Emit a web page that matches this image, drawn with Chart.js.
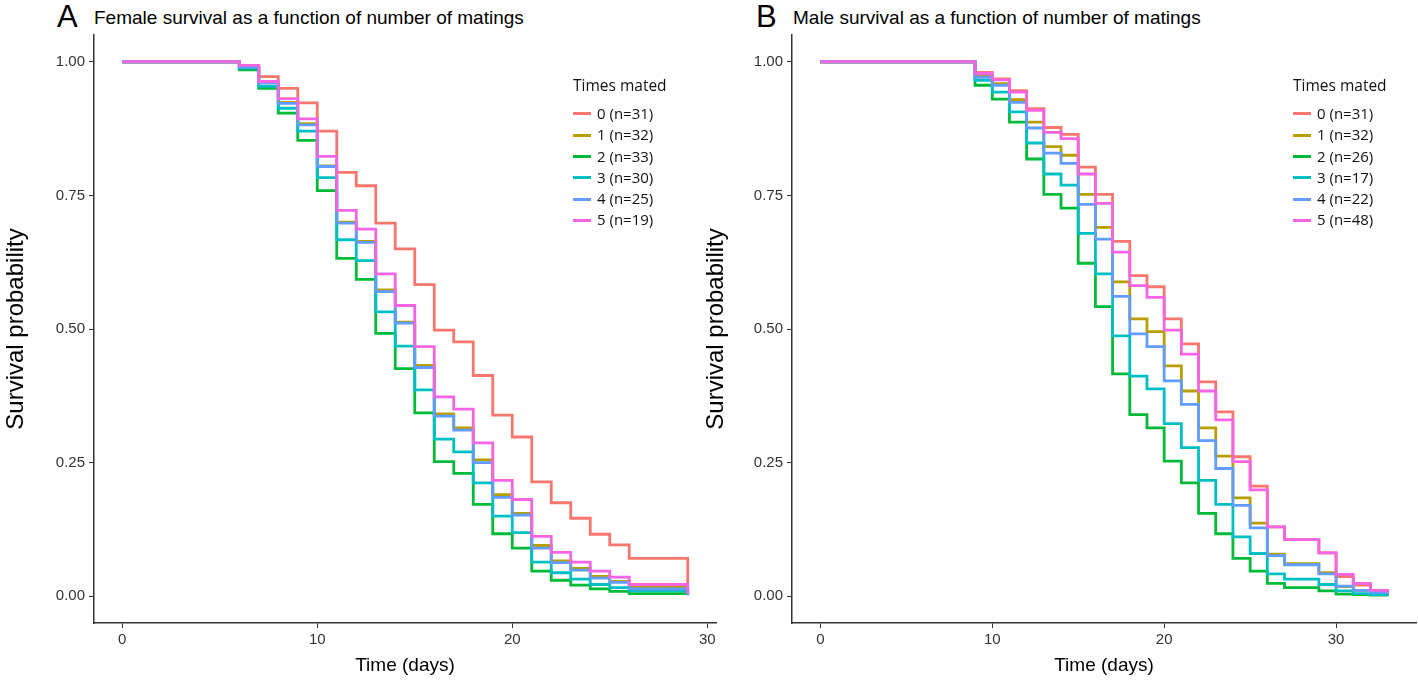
<!DOCTYPE html>
<html>
<head>
<meta charset="utf-8">
<script src="https://cdn.jsdelivr.net/npm/chart.js@4.4.0/dist/chart.umd.min.js"></script>
<style>
  body { margin:0; width:1418px; height:681px; background:#fff; position:relative; overflow:hidden; font-family:"Liberation Sans", Arial, sans-serif; }
  canvas { position:absolute; top:0; }
  .letter { position:absolute; font-size:31px; top:-1px; color:#000; }
  .ttl { position:absolute; font-size:19px; top:7px; color:#000; }
  .legend { position:absolute; font-family:"Open Sans", sans-serif; font-size:15px; color:#111; }
  .legend .head { height:20px; line-height:20px; margin-bottom:8px; font-size:15.5px; }
  .legend .row { height:21.3px; line-height:21px; white-space:nowrap; }
  .legend .key { display:inline-block; width:18px; height:3px; vertical-align:middle; margin-right:6px; margin-top:-2px; }
</style>
</head>
<body>
<div class="letter" style="left:57px">A</div>
<div class="ttl" style="left:94px">Female survival as a function of number of matings</div>
<div class="letter" style="left:756px">B</div>
<div class="ttl" style="left:793px">Male survival as a function of number of matings</div>
<canvas id="chartA" width="720" height="681" style="left:0px"></canvas>
<canvas id="chartB" width="718" height="681" style="left:700px"></canvas>
<div class="legend" id="legendA" style="left:573px; top:75px"></div>
<div class="legend" id="legendB" style="left:1293px; top:75px"></div>
<script>
const groups = ["0", "1", "2", "3", "4", "5"];
const colors = ["#F8766D", "#B79F00", "#00BA38", "#00BFC4", "#619CFF", "#F564E3"];
const femaleN = [31, 32, 33, 30, 25, 19];
const maleN = [31, 32, 26, 17, 22, 48];

const xTicks = [0, 10, 20, 30];
const yTicks = [0, 0.25, 0.5, 0.75, 1];

// female: days where the curves step down
const femTimes = [0, 6, 7, 8, 9, 10, 11, 12, 13, 14, 15, 16, 17, 18, 19, 20, 21, 22, 23, 24, 25, 26, 29];
const fem0 = [1, 0.993, 0.972, 0.950, 0.923, 0.870, 0.793, 0.768, 0.698, 0.650, 0.583, 0.498, 0.476, 0.413, 0.339, 0.298, 0.214, 0.175, 0.146, 0.116, 0.096, 0.071, 0.022];
const fem1 = [1, 0.988, 0.961, 0.924, 0.884, 0.805, 0.700, 0.664, 0.573, 0.513, 0.432, 0.341, 0.315, 0.255, 0.190, 0.155, 0.095, 0.066, 0.052, 0.037, 0.028, 0.017, 0.008];
const fem2 = [1, 0.985, 0.950, 0.904, 0.853, 0.759, 0.632, 0.593, 0.492, 0.426, 0.343, 0.252, 0.230, 0.172, 0.117, 0.090, 0.047, 0.030, 0.021, 0.014, 0.009, 0.005, 0.003];
const fem3 = [1, 0.988, 0.954, 0.913, 0.870, 0.783, 0.667, 0.628, 0.532, 0.468, 0.386, 0.294, 0.270, 0.212, 0.150, 0.119, 0.064, 0.044, 0.032, 0.022, 0.016, 0.010, 0.002];
const fem4 = [1, 0.990, 0.960, 0.922, 0.882, 0.804, 0.698, 0.662, 0.570, 0.511, 0.428, 0.337, 0.311, 0.250, 0.185, 0.152, 0.090, 0.063, 0.049, 0.034, 0.026, 0.014, 0.005];
const fem5 = [1, 0.993, 0.963, 0.931, 0.893, 0.823, 0.722, 0.687, 0.603, 0.544, 0.467, 0.373, 0.350, 0.287, 0.217, 0.181, 0.112, 0.082, 0.064, 0.047, 0.036, 0.022, 0.004];

// male
const maleTimes = [0, 9, 10, 11, 12, 13, 14, 15, 16, 17, 18, 19, 20, 21, 22, 23, 24, 25, 26, 27, 29, 30, 31, 32, 33];
const male0 = [1, 0.980, 0.968, 0.946, 0.912, 0.877, 0.864, 0.803, 0.752, 0.664, 0.600, 0.579, 0.519, 0.472, 0.401, 0.345, 0.261, 0.206, 0.130, 0.106, 0.081, 0.037, 0.021, 0.011, 0.008];
const male1 = [1, 0.974, 0.959, 0.929, 0.887, 0.841, 0.825, 0.752, 0.690, 0.588, 0.519, 0.495, 0.431, 0.384, 0.315, 0.262, 0.184, 0.137, 0.079, 0.061, 0.044, 0.018, 0.011, 0.008, 0.005];
const male2 = [1, 0.956, 0.930, 0.887, 0.818, 0.752, 0.726, 0.623, 0.542, 0.416, 0.340, 0.315, 0.253, 0.212, 0.155, 0.117, 0.071, 0.047, 0.024, 0.016, 0.010, 0.004, 0.003, 0.002, 0.001];
const male3 = [1, 0.965, 0.943, 0.906, 0.848, 0.790, 0.769, 0.679, 0.603, 0.487, 0.412, 0.388, 0.323, 0.278, 0.217, 0.172, 0.111, 0.080, 0.042, 0.032, 0.022, 0.010, 0.005, 0.003, 0.002];
const male4 = [1, 0.971, 0.956, 0.924, 0.876, 0.829, 0.810, 0.733, 0.668, 0.561, 0.491, 0.467, 0.403, 0.359, 0.291, 0.239, 0.170, 0.128, 0.076, 0.059, 0.042, 0.019, 0.011, 0.007, 0.004];
const male5 = [1, 0.978, 0.966, 0.943, 0.909, 0.868, 0.856, 0.790, 0.735, 0.644, 0.581, 0.559, 0.498, 0.453, 0.384, 0.330, 0.252, 0.199, 0.130, 0.106, 0.081, 0.041, 0.024, 0.011, 0.006];

const axisFont = "'Liberation Sans', Arial, sans-serif";
const axisColor = "#333";

function makeChart(id, times, series, xMin, xMax, yWidth, rightPad) {
  const datasets = series.map((vals, i) => ({
    label: groups[i],
    data: times.map((t, k) => ({ x: t, y: vals[k] })),
    borderColor: colors[i],
    borderWidth: 2.8,
    pointRadius: 0,
    stepped: true,
    fill: false,
    order: series.length - i
  }));

  return new Chart(document.getElementById(id), {
    type: 'line',
    data: { datasets: datasets },
    options: {
      responsive: false,
      animation: false,
      layout: { padding: { left: 0, right: rightPad, top: 35, bottom: 0 } },
      plugins: { legend: { display: false }, tooltip: { enabled: false } },
      scales: {
        x: {
          type: 'linear',
          min: xMin,
          max: xMax,
          afterBuildTicks: s => { s.ticks = xTicks.map(v => ({ value: v })); },
          afterFit: s => { s.height = 58; },
          grid: { drawOnChartArea: false, drawTicks: true, tickLength: 5, color: axisColor },
          border: { display: true, color: axisColor, width: 1.5 },
          ticks: { font: { family: axisFont, size: 15 }, color: axisColor, padding: 3, maxRotation: 0, autoSkip: false },
          title: { display: true, text: 'Time (days)', font: { family: axisFont, size: 19 }, color: '#000', padding: { top: 0, bottom: 4 } }
        },
        y: {
          min: -0.05,
          max: 1.05,
          afterBuildTicks: s => { s.ticks = yTicks.map(v => ({ value: v })); },
          afterFit: s => { s.width = yWidth; },
          grid: { drawOnChartArea: false, drawTicks: true, tickLength: 5, color: axisColor },
          border: { display: true, color: axisColor, width: 1.5 },
          ticks: { font: { family: axisFont, size: 15 }, color: axisColor, padding: 4, callback: v => v.toFixed(2) },
          title: { display: true, text: 'Survival probability', font: { family: axisFont, size: 24 }, color: '#000', padding: { top: 2, bottom: 0 } }
        }
      }
    }
  });
}

function makeLegend(id, nList) {
  const box = document.getElementById(id);
  let html = '<div class="head">Times mated</div>';
  groups.forEach((g, i) => {
    html += '<div class="row"><span class="key" style="background:' + colors[i] + '"></span>' + g + ' (n=' + nList[i] + ')</div>';
  });
  box.innerHTML = html;
}

makeChart('chartA', femTimes, [fem0, fem1, fem2, fem3, fem4, fem5], -1.45, 30.45, 94, 4);
makeChart('chartB', maleTimes, [male0, male1, male2, male3, male4, male5], -1.65, 34.65, 92, 2);
makeLegend('legendA', femaleN);
makeLegend('legendB', maleN);
</script>
</body>
</html>
